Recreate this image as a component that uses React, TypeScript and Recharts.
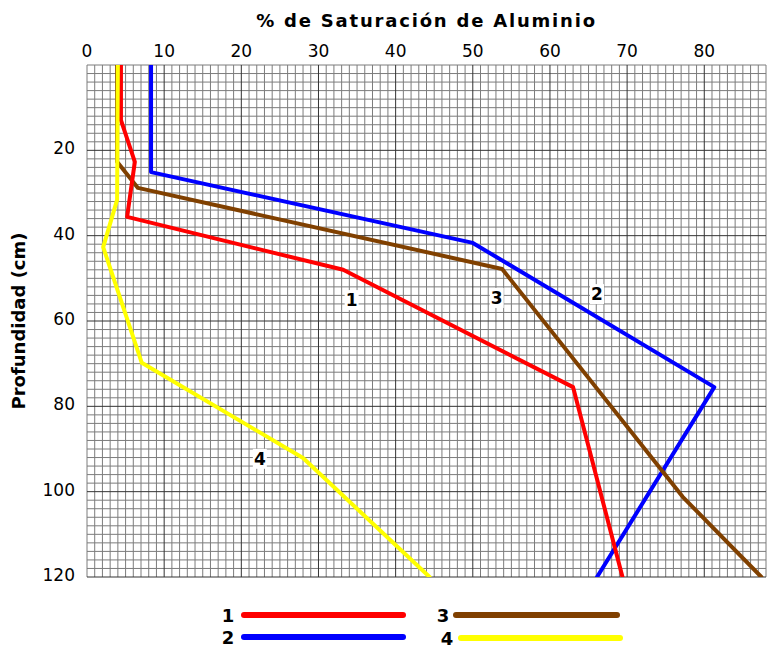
import React from 'react';
import { ScatterChart, Scatter, XAxis, YAxis, ReferenceLine, ReferenceDot } from 'recharts';

// Axis ticks
const pctTicks = [0, 10, 20, 30, 40, 50, 60, 70, 80];
const depthTicks = [20, 40, 60, 80, 100, 120];

// Series 1 (red)
const s1Pct = [4.4, 4.4, 6.2, 5.2, 33.2, 63.0, 69.4];
const s1Depth = [0, 12.9, 22.7, 35.6, 48.0, 75.5, 120];
// Series 2 (blue)
const s2Pct = [8.3, 8.3, 50.0, 81.3, 66.1];
const s2Depth = [0, 25.1, 41.7, 75.5, 120];
// Series 3 (brown)
const s3Pct = [3.9, 3.9, 6.6, 53.8, 77.2, 87.4];
const s3Depth = [0, 22.7, 28.8, 47.8, 101.2, 120];
// Series 4 (yellow)
const s4Pct = [4.0, 3.9, 2.1, 7.1, 28.0, 44.4];
const s4Depth = [0, 31.6, 42.7, 69.8, 92.1, 120];

const seriesNames = ['1', '2', '3', '4'];
const seriesColors = ['#ff0000', '#0000ff', '#804000', '#ffff00'];

// Inline label anchor positions (pct, depth)
const labelPct = [34.3, 66.1, 53.1, 22.4];
const labelDepth = [55.1, 53.7, 54.6, 92.3];

const minorX = Array.from({ length: 89 }, (_, i) => i).filter((v) => v % 10 !== 0 || v === 0);
const minorY = Array.from({ length: 61 }, (_, i) => i * 2).filter((v) => v % 20 !== 0 || v === 0);
const majorX = [10, 20, 30, 40, 50, 60, 70, 80];
const majorY = [20, 40, 60, 80, 100, 120];

const toPoints = (xs: number[], ds: number[]) => xs.map((x, i) => ({ pct: x, depth: ds[i] }));

const series = [
  toPoints(s1Pct, s1Depth),
  toPoints(s2Pct, s2Depth),
  toPoints(s3Pct, s3Depth),
  toPoints(s4Pct, s4Depth),
];

const drawOrder = [1, 2, 0, 3];

const FONT = '"DejaVu Sans", sans-serif';

const NoShape = () => <g />;

const makeLabelShape = (text: string) => (p: any) => (
  <g>
    <rect x={p.cx - 7} y={p.cy - 10} width={14} height={20} fill="#ffffff" />
    <text
      x={p.cx}
      y={p.cy}
      textAnchor="middle"
      dominantBaseline="central"
      fontFamily={FONT}
      fontWeight="bold"
      fontSize={17}
      fill="#000"
    >
      {text}
    </text>
  </g>
);

const legendPos = [
  { tx: 228, y: 615, x1: 244, x2: 403 },
  { tx: 228, y: 637, x1: 244, x2: 403 },
  { tx: 443, y: 615, x1: 456, x2: 617 },
  { tx: 447, y: 638, x1: 461, x2: 620 },
];

const MINOR = '#7c7c7c';
const MAJOR = '#333333';

export default function App() {
  return (
    <div style={{ position: 'absolute', left: 0, top: 0, width: 773, height: 650, background: '#fff' }}>
      <ScatterChart
        width={773}
        height={650}
        margin={{ top: 35, right: 7, bottom: 73, left: 27 }}
      >
        <XAxis
          type="number"
          dataKey="pct"
          orientation="top"
          domain={[0, 88]}
          ticks={pctTicks}
          axisLine={false}
          tickLine={false}
          height={30}
          allowDataOverflow
          tick={{ fontFamily: FONT, fontSize: 17, fill: '#000' }}
          label={{
            value: '% de Saturación de Aluminio',
            position: 'top',
            offset: 8,
            style: { fontFamily: FONT, fontSize: 18, fontWeight: 'bold', fill: '#000', letterSpacing: '1.8px' },
          }}
        />
        <YAxis
          type="number"
          dataKey="depth"
          reversed
          domain={[0, 120]}
          ticks={depthTicks}
          axisLine={false}
          tickLine={false}
          width={60}
          tickMargin={6}
          allowDataOverflow
          tick={{ fontFamily: FONT, fontSize: 17, fill: '#000', dy: -2 }}
          label={{
            value: 'Profundidad (cm)',
            content: (props: any) => {
              const vb = props.viewBox || { x: 27, y: 65, width: 60, height: 512 };
              const cx = 18;
              const cy = vb.y + vb.height / 2;
              return (
                <text
                  x={cx}
                  y={cy}
                  transform={`rotate(-90 ${cx} ${cy})`}
                  textAnchor="middle"
                  dominantBaseline="central"
                  fontFamily={FONT}
                  fontWeight="bold"
                  fontSize={18}
                  fill="#000"
                >
                  Profundidad (cm)
                </text>
              );
            },
          }}
        />
        {minorX.map((v) => (
          <ReferenceLine key={'mx' + v} x={v} stroke={MINOR} strokeWidth={1} />
        ))}
        {minorY.map((v) => (
          <ReferenceLine key={'my' + v} y={v} stroke={MINOR} strokeWidth={1} />
        ))}
        {majorX.map((v) => (
          <ReferenceLine key={'Mx' + v} x={v} stroke={MAJOR} strokeWidth={1} />
        ))}
        {majorY.map((v) => (
          <ReferenceLine key={'My' + v} y={v} stroke={MAJOR} strokeWidth={1} />
        ))}
        {drawOrder.map((i) => (
          <Scatter
            key={seriesNames[i]}
            name={seriesNames[i]}
            data={series[i]}
            line={{ stroke: seriesColors[i], strokeWidth: 4, strokeLinejoin: 'round', strokeLinecap: 'round' }}
            lineJointType="linear"
            shape={NoShape}
            fill={seriesColors[i]}
            isAnimationActive={false}
          />
        ))}
        {seriesNames.map((n, i) => (
          <ReferenceDot
            key={'lbl' + n}
            x={labelPct[i]}
            y={labelDepth[i]}
            r={0}
            shape={makeLabelShape(n)}
          />
        ))}
      </ScatterChart>
      <svg width={773} height={650} style={{ position: 'absolute', left: 0, top: 0, pointerEvents: 'none' }}>
        {seriesNames.map((n, i) => {
          const p = legendPos[i];
          return (
            <g key={'leg' + n}>
              <text
                x={p.tx}
                y={p.y}
                textAnchor="middle"
                dominantBaseline="central"
                fontFamily={FONT}
                fontWeight="bold"
                fontSize={18}
                fill="#000"
              >
                {n}
              </text>
              <line x1={p.x1} x2={p.x2} y1={p.y} y2={p.y} stroke={seriesColors[i]} strokeWidth={6} strokeLinecap="round" />
            </g>
          );
        })}
      </svg>
    </div>
  );
}
